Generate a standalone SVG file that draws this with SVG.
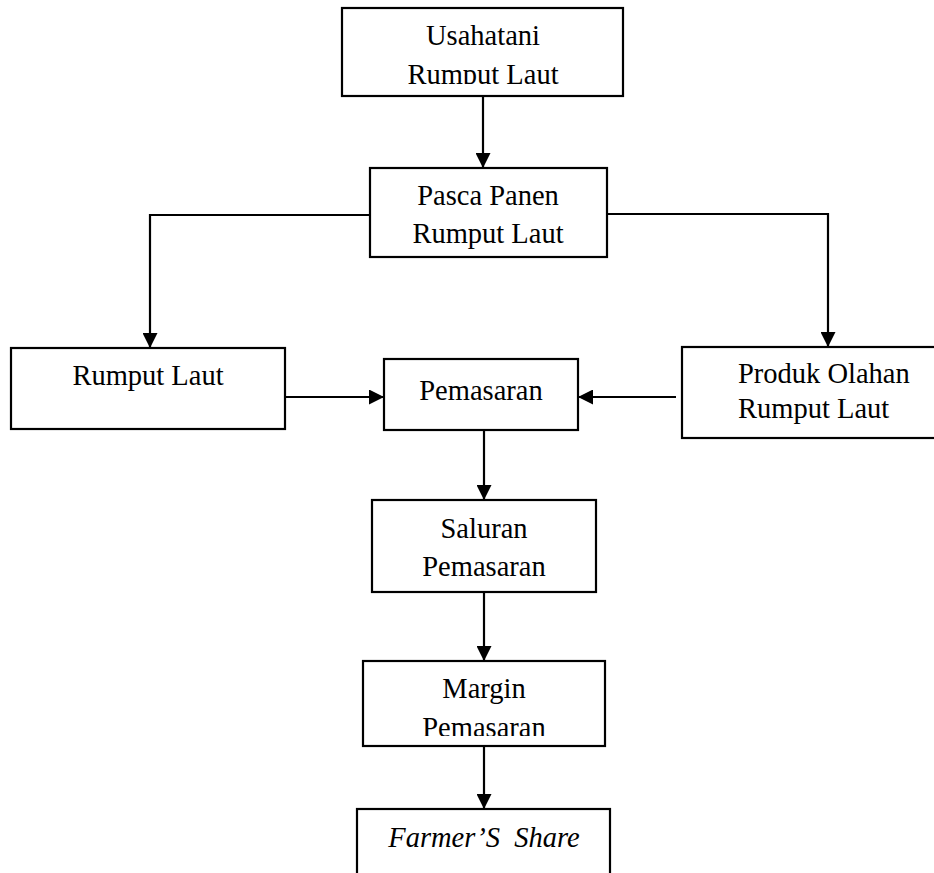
<svg xmlns="http://www.w3.org/2000/svg" width="934" height="873" viewBox="0 0 934 873">
<style>
.box{fill:#fff;stroke:#000;stroke-width:2.2}
.t{font-family:"Liberation Serif","Times New Roman",serif;font-size:28.5px;fill:#000}
.c{text-anchor:middle}
.i{font-style:italic}
.ln{fill:none;stroke:#000;stroke-width:2.2}
</style>
<defs>
<marker id="ah" markerUnits="userSpaceOnUse" markerWidth="15" markerHeight="15" refX="15" refY="7.5" orient="auto">
<path d="M0,0 L15,7.5 L0,15 z" fill="#000"/>
</marker>
<clipPath id="c1"><rect x="342" y="8" width="281" height="76"/></clipPath>
<clipPath id="c2"><rect x="363" y="661" width="242" height="75"/></clipPath>
</defs>
<rect width="934" height="873" fill="#fff"/>
<g id="connectors">
<line class="ln" x1="483" y1="96" x2="483" y2="168" marker-end="url(#ah)"/>
<polyline class="ln" points="370,215 150,215 150,348" marker-end="url(#ah)"/>
<polyline class="ln" points="607,214 828,214 828,347" marker-end="url(#ah)"/>
<line class="ln" x1="285" y1="397" x2="384" y2="397" marker-end="url(#ah)"/>
<line class="ln" x1="676" y1="397" x2="578" y2="397" marker-end="url(#ah)"/>
<line class="ln" x1="484" y1="430" x2="484" y2="500" marker-end="url(#ah)"/>
<line class="ln" x1="484" y1="592" x2="484" y2="661" marker-end="url(#ah)"/>
<line class="ln" x1="484" y1="746" x2="484" y2="809" marker-end="url(#ah)"/>
</g>
<g id="usahatani">
<rect class="box" x="342" y="8" width="281" height="88"/>
<g clip-path="url(#c1)">
<text class="t c" x="483" y="45">Usahatani</text>
<text class="t c" x="483" y="84">Rumput Laut</text>
</g>
</g>
<g id="pasca">
<rect class="box" x="370" y="168" width="237" height="89"/>
<text class="t c" x="488" y="205">Pasca Panen</text>
<text class="t c" x="488" y="243">Rumput Laut</text>
</g>
<g id="rumput">
<rect class="box" x="11" y="348" width="274" height="81"/>
<text class="t c" x="148" y="385">Rumput Laut</text>
</g>
<g id="pemasaran">
<rect class="box" x="384" y="359" width="194" height="71"/>
<text class="t c" x="481" y="400">Pemasaran</text>
</g>
<g id="produk">
<rect class="box" x="682" y="347" width="254" height="91"/>
<text class="t" x="738" y="383">Produk Olahan</text>
<text class="t" x="738" y="418">Rumput Laut</text>
</g>
<g id="saluran">
<rect class="box" x="372" y="500" width="224" height="92"/>
<text class="t c" x="484" y="538">Saluran</text>
<text class="t c" x="484" y="576">Pemasaran</text>
</g>
<g id="margin">
<rect class="box" x="363" y="661" width="242" height="85"/>
<g clip-path="url(#c2)">
<text class="t c" x="484" y="698">Margin</text>
<text class="t c" x="484" y="737">Pemasaran</text>
</g>
</g>
<g id="farmer">
<rect class="box" x="357" y="809" width="253" height="80"/>
<text class="t c i" x="484" y="847" xml:space="preserve">Farmer’S  Share</text>
</g>
</svg>
